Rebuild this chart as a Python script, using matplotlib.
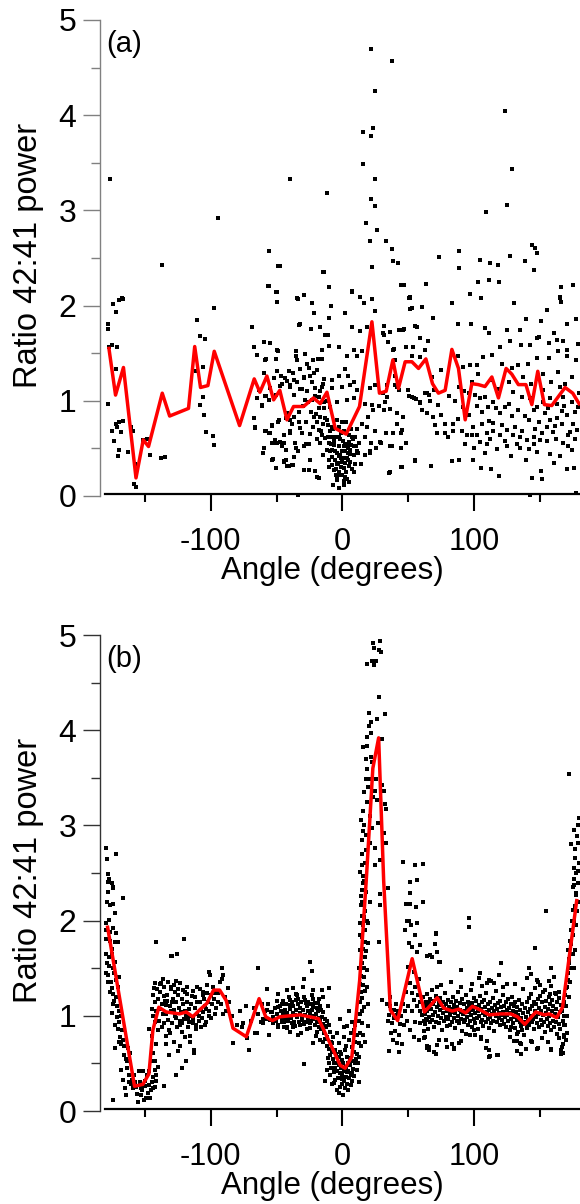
import matplotlib
matplotlib.use('Agg')
import matplotlib.pyplot as plt
import numpy as np
from matplotlib.ticker import MultipleLocator

plt.rcParams['font.family'] = ['Liberation Sans', 'DejaVu Sans']
plt.rcParams['axes.unicode_minus'] = False

# ---------------- Panel (a) data ----------------
a_line_x = [-177, -172, -166, -156.5, -151, -147, -136.6, -131, -116.7, -112,
            -107.6, -102, -97.2, -78, -66.9, -62.6, -57.3, -52.2, -47.5, -42.1,
            -37.1, -29.5, -22, -16.9, -11.8, -5.5, 2.8, 12.9, 22.3, 28,
            33.1, 38.2, 42.4, 47.5, 52.6, 57.6, 63.2, 68.2, 72.7, 77.8,
            82.9, 87.9, 93, 98, 103, 108, 113.2, 118.2, 124, 128.3,
            133.3, 139, 143.5, 148, 153, 158.6, 168.7, 174.5, 179.3]
a_line_y = [1.55, 1.06, 1.35, 0.19, 0.59, 0.52, 1.08, 0.84, 0.92, 1.57,
            1.14, 1.16, 1.52, 0.74, 1.23, 1.09, 1.26, 1.01, 1.11, 0.80,
            0.94, 0.94, 1.03, 0.97, 1.09, 0.71, 0.65, 0.94, 1.83, 1.08,
            1.10, 1.43, 1.13, 1.41, 1.41, 1.34, 1.44, 1.18, 1.08, 1.11,
            1.54, 1.34, 0.80, 1.18, 1.17, 1.15, 1.25, 1.03, 1.34, 1.28,
            1.17, 1.17, 0.96, 1.31, 0.96, 0.95, 1.14, 1.08, 0.97]

a_high = [(-176, 3.33), (-167, 2.08), (-137, 2.43), (-94.7, 2.92), (-39.6, 3.33), (-56, 2.57),
          (-48.5, 2.42), (-56, 2.21), (-50, 2.14), (-34.5, 2.08), (21.5, 4.70), (37.9, 4.57),
          (24.8, 4.25), (15.9, 3.82), (23, 3.87), (21.5, 3.78), (123.5, 4.04), (15.9, 3.49),
          (24.8, 3.33), (128.6, 3.43), (-11.6, 3.18), (21.5, 3.12), (24.8, 3.05), (124.8, 3.06),
          (108.6, 2.98), (18, 2.87), (26, 2.79), (21, 2.68), (32.9, 2.68), (37.9, 2.59),
          (143.5, 2.64), (145.7, 2.61), (147.5, 2.55), (88.6, 2.57), (73.5, 2.51), (126.8, 2.52),
          (104.3, 2.48), (111.9, 2.45), (118.2, 2.43), (138.6, 2.47), (38.6, 2.47), (41.7, 2.45),
          (22.7, 2.41), (88.6, 2.39), (145.5, 2.37), (-14.1, 2.35), (-47, 2.42), (-10.3, 2.20),
          (44.2, 2.22), (46.7, 2.22), (63.4, 2.23), (103, 2.25), (111.1, 2.27), (118.7, 2.25),
          (165.7, 2.20), (175, 2.22), (-29, 2.11), (-34, 2.07), (7.1, 2.14), (13.4, 2.09),
          (22.3, 2.07), (51.3, 2.08), (96.7, 2.12), (105.3, 2.08), (165, 2.08)]

a_left = [(-177.8, 1.81), (-177.8, 1.75), (-174, 2.02), (-172, 1.93), (-169.7, 2.06), (-166, 2.07),
          (-177, 1.56), (-174.7, 1.59), (-171, 1.57), (-172, 1.33), (-177.8, 0.97), (-174.7, 0.68),
          (-172, 0.76), (-169.7, 0.78), (-166.7, 0.79), (-171, 0.73), (-167.9, 0.67), (-172.9, 0.58),
          (-169, 0.48), (-170, 0.42), (-162.6, 0.46), (-160, 0.73), (-159, 0.68), (-158, 0.13),
          (-156.5, 0.09), (-157, 0.34), (-148, 0.60), (-151, 0.59), (-146, 0.43), (-137.3, 0.40),
          (-134.8, 0.41), (-110, 1.85), (-107.8, 1.68), (-104, 1.65), (-106, 1.36), (-110.8, 1.31),
          (-97.4, 1.98), (-106, 1.04), (-107.8, 0.96), (-105, 0.85), (-103.5, 0.67), (-98.5, 0.63),
          (-97.4, 0.54), (-68.4, 1.77), (-67.4, 1.57), (-67.4, 0.82), (-66.1, 0.71)]

a_mid = [(-64.8, 1.48), (-59.8, 1.62), (-55.3, 1.61), (-58.3, 1.44), (-49.5, 1.53), (-50.2, 1.44),
         (-49.7, 2.04), (-32.8, 1.80), (-64.8, 1.03), (-61, 0.95), (-58, 1.05), (-56, 1.01),
         (-52.2, 1.24), (-49.7, 1.31), (-45.9, 1.18), (-41.7, 1.21), (-39.6, 1.15), (-37.6, 1.29),
         (-35.6, 1.47), (-34.5, 1.43), (-58.6, 0.68), (-55.3, 0.66), (-53.5, 0.75), (-48.9, 0.78),
         (-59.3, 0.50), (-60.3, 0.45), (-52.7, 0.39), (-50.2, 0.29), (-45.9, 0.52), (-44.2, 0.37),
         (-42.9, 0.48), (-41.7, 0.31), (-38.3, 0.33), (-37.1, 0.41), (-35.3, 0.50), (-39.6, 0.68),
         (-42.1, 0.87), (-39.6, 0.80), (-37.1, 0.83), (-33.8, 0.01), (-50.2, 0.56), (-47, 0.57),
         (-14.4, 2.35), (-56.8, 2.21), (-50.2, 2.14), (-29.5, 2.11), (-33.8, 2.07), (-23.2, 2.03),
         (-10, 2.20), (-8.8, 2.0), (7.1, 2.15), (13.4, 2.09), (16, 2.03), (24.8, 1.94),
         (45.8, 2.22), (63.5, 2.23), (51.4, 2.09), (60.2, 1.99), (51.4, 1.96), (2.0, 1.92),
         (-21.9, 1.92), (-10.6, 1.87), (-32, 1.81), (-68.6, 1.77), (-17.4, 1.77), (-23.7, 1.75),
         (-13.1, 1.69), (-11.3, 1.69), (7.1, 1.78), (13.4, 1.73), (18.4, 1.78), (31.6, 1.79),
         (36.1, 1.72), (43.2, 1.74), (46.3, 1.75), (31.1, 1.69), (58.5, 1.66), (64.8, 1.63),
         (47.8, 1.57), (62.2, 1.53), (-59.8, 1.62), (-54.8, 1.61), (-67.4, 1.56), (-48.9, 1.52),
         (-64.9, 1.48), (-58.5, 1.43), (-35.1, 1.52), (-28.3, 1.49), (-15.7, 1.53), (-10.1, 1.58),
         (-3, 1.56), (3.4, 1.47), (8.4, 1.53), (11, 1.47), (14.7, 1.52), (39.3, 1.54),
         (-22, 1.43), (-18.4, 1.44), (-15.8, 1.44), (-26.8, 1.39), (-32, 1.33), (-40.2, 1.31),
         (-59.3, 1.29), (-46.4, 1.26), (-43.4, 1.24), (-37.1, 1.22), (-25.6, 1.34), (-21.9, 1.29),
         (-19.4, 1.32), (-13.8, 1.23), (-8.1, 1.22), (-3, 1.26), (2, 1.33), (4.5, 1.26),
         (8.4, 1.20), (-24.4, 1.26), (-29.5, 1.24), (-34.6, 1.20), (-39.7, 1.17), (-47.2, 1.16),
         (-54.8, 1.13), (-63.6, 1.11), (-58.5, 1.05), (-61, 0.96), (-50.7, 1.06), (-37.1, 1.06),
         (-30.7, 1.12), (-20.6, 1.13), (-15.6, 1.15), (-8.1, 1.13), (-0.5, 1.15), (5.8, 1.17),
         (10.9, 1.11), (21, 1.13), (24.8, 1.17), (33.7, 1.17), (40, 1.17), (42.5, 1.11),
         (50.1, 1.05), (53.9, 1.03), (62.7, 1.08), (58.9, 0.98), (65.2, 1.06), (-28.2, 1.01),
         (-23.2, 1.01), (-18.1, 1.04), (-13.8, 0.99), (-9.3, 0.94), (-3.8, 0.99), (3.3, 1.01),
         (8.4, 1.03), (17.2, 0.97), (22.3, 0.96), (27.4, 0.95), (32.4, 0.99), (36.1, 0.91),
         (41.2, 0.87), (46.2, 0.83), (31.1, 0.90), (-66.9, 0.82), (-66.1, 0.72), (-57.8, 0.68),
         (-56, 0.66), (-53.5, 0.74), (-48.4, 0.80), (-42.6, 0.82), (-38.4, 0.76), (-33.3, 0.78),
         (-32, 0.71), (-39.6, 0.66), (-44.6, 0.64), (-44.6, 0.56), (-49.6, 0.56), (-53.5, 0.56),
         (-59.8, 0.50), (-60.3, 0.45), (-53.5, 0.38), (-44.6, 0.36), (-40.9, 0.31), (-37.7, 0.33),
         (-33.8, 0.47), (-29.5, 0.52), (-25.7, 0.55), (-24.4, 0.38), (-25.7, 0.27), (-29.5, 0.27),
         (-20.6, 0.26), (-19.4, 0.20), (-18.1, 0.19), (-21.9, 0.83), (-19.4, 0.78), (-16.9, 0.83),
         (-14.4, 0.76), (-11.8, 0.80), (-8.1, 0.73), (-18.1, 0.69), (-15.6, 0.64), (-13.1, 0.61),
         (-16.9, 0.56), (-10.6, 0.56), (-5.6, 0.62), (-3, 0.73), (-0.5, 0.78), (-6.8, 0.54),
         (-9.3, 0.47), (-8.1, 0.41), (-5.6, 0.47), (-3, 0.52), (-1.8, 0.43), (0.8, 0.52),
         (2, 0.47), (4.6, 0.57), (7.1, 0.62), (5.8, 0.48), (8.4, 0.43), (3.3, 0.40),
         (-0.5, 0.36), (-4.3, 0.34), (-8.1, 0.33), (-6.8, 0.27), (-3, 0.25), (0.8, 0.29),
         (4.6, 0.31), (5.8, 0.36), (9.6, 0.34), (10.9, 0.47), (12.2, 0.56), (8.4, 0.52),
         (-1.8, 0.22), (2, 0.20), (-4.3, 0.17), (-7.4, 0.12), (0.8, 0.16), (-10.6, 0.38),
         (-14.4, 0.43), (14.7, 0.76), (18.4, 0.73), (19.7, 0.83), (23.5, 0.90), (16.8, 0.62),
         (21.9, 0.56), (25.7, 0.50), (29.5, 0.56), (33.3, 0.66), (35.8, 0.52), (38.4, 0.66),
         (44.7, 0.50), (48.5, 0.56), (44.7, 0.66), (16.8, 0.43), (14.2, 0.34), (20.9, 0.47),
         (35, 0.24), (45.1, 0.30), (55.1, 0.37), (-42.6, 0.38), (-50.9, 0.59), (-35.8, 0.56),
         (-2, 0.6), (1, 0.68), (3.5, 0.55), (-4, 0.45), (6, 0.44), (-1, 0.30), (2.5, 0.25),
         (4, 0.38), (-6, 0.38), (0, 0.47), (-3, 0.62), (8, 0.6), (9, 0.25), (-9, 0.55),
         (-11, 0.62), (11, 0.7), (6.5, 0.7), (-7, 0.7), (-12, 0.48), (12, 0.45), (1.5, 0.12),
         (-5, 0.22), (5, 0.15), (-2.5, 0.08), (7, 0.28), (-10, 0.3), (3, 0.78), (-4.5, 0.8),
         (10, 0.52), (-8.5, 0.62), (0.5, 0.58), (-1.5, 0.4), (2, 0.35), (4.5, 0.5), (-3.5, 0.35),
         (-30, 0.95), (-27, 1.1), (-24, 0.88), (-21, 1.05), (-18, 0.92), (-15, 1.18), (-12, 1.0),
         (-28, 0.78), (-25, 0.65), (-22, 0.72), (-19, 0.6), (-16, 0.68), (-13, 0.82), (-32, 1.12),
         (-29, 1.25), (-26, 0.99), (-23, 1.2), (-20, 0.86), (-17, 1.1), (-14, 0.92), (-11, 0.75),
         (-33, 0.88), (-31, 0.66), (-27.5, 0.55), (-6.5, 0.58), (-2.8, 0.42), (1.8, 0.55),
         (3.8, 0.45), (6.8, 0.54), (-5.2, 0.28), (-0.2, 0.22), (3.1, 0.18), (-7.8, 0.48),
         (9.2, 0.62), (-9.8, 0.68), (-1.2, 0.66), (5.2, 0.64), (-3.8, 0.18), (0.4, 0.40)]

a_right = [(50.5, 2.08), (52.5, 1.97), (68.4, 1.87), (55.1, 1.79), (82.8, 2.03), (87.8, 1.81),
           (97.2, 1.81), (130.3, 2.03), (138.9, 1.86), (150.6, 1.84), (154.8, 1.95), (164.9, 2.09),
           (165.7, 2.04), (176.8, 1.86), (170, 1.81), (160.6, 1.71), (149, 1.67), (134.6, 1.74),
           (124.5, 1.74), (108.1, 1.76), (111.4, 1.71), (119.4, 1.57), (127, 1.63), (135.1, 1.59),
           (142.2, 1.59), (147.2, 1.66), (156.8, 1.61), (162.4, 1.64), (167.4, 1.63), (170.4, 1.53),
           (178.4, 1.60), (176.8, 1.43), (170.4, 1.47), (163.7, 1.52), (156.8, 1.45), (147.2, 1.45),
           (140.9, 1.39), (133.3, 1.38), (128.3, 1.34), (120.7, 1.39), (113.2, 1.48), (106.8, 1.46),
           (101.8, 1.38), (96.7, 1.38), (91.7, 1.36), (87.9, 1.47), (74.7, 1.32), (68.2, 1.25),
           (53.8, 1.57), (52.5, 1.47), (40, 1.43), (38.6, 1.53), (34.8, 1.62), (31, 1.71),
           (46.2, 1.74), (56.4, 1.78), (58.4, 1.46), (40, 1.26), (31, 1.08), (33.6, 1.04),
           (41.1, 1.15), (49.5, 1.11), (52.5, 1.04), (55.8, 1.02), (58.8, 0.99), (63.9, 1.08),
           (69, 1.11), (72.7, 0.96), (68.9, 0.83), (63.9, 0.87), (71.5, 0.66), (77.8, 0.66),
           (84.1, 0.76), (90.4, 0.68), (94.2, 0.64), (98, 0.64), (101.8, 0.64), (96.2, 1.08),
           (100.5, 1.06), (104.3, 1.03), (108.1, 1.04), (110.6, 0.94), (114.4, 0.99), (119.5, 0.87),
           (123.2, 0.94), (128.3, 0.84), (133.3, 0.90), (138, 0.84), (144.8, 0.90), (148.6, 0.78),
           (153.6, 0.87), (157.4, 0.80), (162.4, 0.82), (166.2, 0.89), (170, 0.85), (175, 0.76),
           (177.5, 0.69), (172.5, 0.67), (166.2, 0.76), (159.9, 0.67), (154.9, 0.73), (149.8, 0.59),
           (144.8, 0.62), (139.7, 0.59), (134.7, 0.62), (129.6, 0.64), (124.6, 0.69), (119.5, 0.64),
           (114.4, 0.68), (109.4, 0.66), (105.6, 0.76), (114.4, 0.77), (104.3, 0.57), (109.4, 0.55),
           (117, 0.49), (124.6, 0.52), (134.2, 0.50), (141, 0.49), (147.3, 0.46), (157.4, 0.44),
           (164.5, 0.42), (170.6, 0.52), (173.9, 0.48), (167.4, 0.56), (104.8, 0.29), (112.9, 0.28),
           (118.4, 0.21), (143.7, 0.19), (151.3, 0.18), (150.7, 0.26), (170, 0.28), (175.8, 0.29),
           (83.1, 0.37), (88.4, 0.38), (99, 0.38), (55, 0.38), (66.9, 0.31), (44.2, 0.30),
           (36, 0.25), (141.9, 0.01), (177.1, 0.03), (77.8, 0.76), (84.1, 0.68), (87.9, 0.81),
           (91.7, 0.94), (129.6, 1.09), (136, 1.04), (142.2, 1.03), (147.2, 0.94), (152.3, 0.99),
           (157.4, 1.03), (162.4, 0.97), (167.4, 1.04), (173.8, 0.99), (178.8, 0.94), (164.9, 1.15),
           (152.3, 1.11), (41.1, 0.76), (44.9, 0.69), (37.4, 0.52), (28.6, 0.57), (24.8, 0.68),
           (21, 0.45), (96, 0.85), (99, 0.72), (102, 0.95), (106, 0.88), (111, 0.79), (116, 0.92),
           (121, 0.75), (126, 0.97), (131, 0.72), (136, 0.68), (141, 0.80), (146, 0.70), (151, 0.66),
           (156, 0.92), (161, 0.74), (168, 0.95), (171, 0.64), (176, 0.88), (98, 1.2), (103, 1.28),
           (113, 1.22), (118, 1.12), (126, 1.2), (137, 1.25), (143, 1.18), (152, 1.28), (158, 1.2),
           (163, 1.3), (169, 1.18), (174, 1.25), (179, 1.08), (112, 0.6), (123, 0.58), (132, 0.55),
           (145, 0.55), (155, 0.58), (162, 0.6), (176, 0.6), (100, 0.5), (108, 0.45), (128, 0.42),
           (139, 0.38), (160, 0.35), (93, 0.55), (80, 0.62), (75, 0.85), (70, 0.75), (66, 1.0),
           (60, 0.9), (85, 1.0), (88, 1.15), (92, 1.1), (81, 1.05)]

# ---------------- Panel (b) data ----------------
b_line_x = [-178, -157.6, -151.3, -146.7, -143.7, -139.2, -133.6, -123.5, -118.4, -113.4,
            -108.4, -102.8, -97.7, -93.1, -88.1, -83, -72.9, -63.2, -58.2, -53.1,
            -47.4, -39.8, -32, -18.2, -9.4, -1.7, 2, 7.1, 13, 18,
            23, 27.4, 31.2, 36.3, 41.8, 52.8, 62.1, 66.7, 71.8, 76.8,
            83.2, 88.2, 93.3, 98.4, 104.7, 111, 120, 127.5, 132.6, 138.2,
            146.5, 152.9, 156.7, 162.3, 166.8, 177.5]
b_line_y = [1.93, 0.26, 0.28, 0.39, 0.85, 1.09, 1.04, 1.02, 1.04, 0.99,
            1.06, 1.13, 1.27, 1.27, 1.16, 0.87, 0.78, 1.18, 0.99, 0.95,
            0.99, 1.00, 1.01, 0.97, 0.71, 0.48, 0.45, 0.57, 1.37, 2.42,
            3.6, 3.92, 2.42, 1.06, 0.95, 1.60, 1.04, 1.11, 1.19, 1.08,
            1.05, 1.07, 1.03, 1.10, 1.06, 1.01, 1.02, 1.02, 0.99, 0.91,
            1.04, 1.01, 1.02, 0.98, 1.09, 2.21]

b_left = [(-179.5, 2.76), (-172, 2.70), (-178.7, 2.65), (-178, 2.49), (-177, 2.44), (-173.6, 2.35),
          (-166.5, 2.24), (-177.9, 2.41), (-174.9, 2.40), (-174.1, 2.34), (-176.3, 2.16), (-174.1, 2.17),
          (-172.3, 2.08), (-179.5, 1.98), (-177.2, 2.01), (-174.1, 1.92), (-171.6, 1.87), (-178.9, 1.81),
          (-176.3, 1.79), (-172.5, 1.78), (-170, 1.78), (-179.5, 1.65), (-174.6, 1.65), (-178.4, 1.55),
          (-173.9, 1.50), (-172.4, 1.57), (-177.9, 1.43), (-169, 1.41), (-179.2, 1.45), (-174.6, 1.29),
          (-173.9, 1.23), (-173.1, 1.16), (-170.6, 1.10), (-174.6, 1.03), (-171.1, 0.99), (-169.1, 0.94),
          (-167.1, 0.85), (-168.6, 0.78), (-172.1, 0.66), (-169.6, 0.73), (-166.1, 0.75), (-162.8, 0.66),
          (-165.3, 0.59), (-161, 0.61), (-163.5, 0.52), (-167.8, 0.43), (-166.6, 0.33), (-158.9, 0.24),
          (-154.4, 0.42), (-151.3, 0.42), (-148.3, 0.38), (-146.3, 0.42), (-143.7, 0.36), (-142.4, 0.43),
          (-139.9, 0.46), (-141.1, 0.31), (-143.7, 0.24), (-147.5, 0.19), (-148.8, 0.14), (-145.7, 0.14),
          (-151.9, 0.22), (-156.5, 0.25), (-160.3, 0.28), (-155.3, 0.09), (-163.9, 0.17), (-165.1, 0.24),
          (-174.1, 0.12), (-134.9, 0.26), (-176, 1.88), (-175, 1.70), (-177, 1.62), (-173, 1.45),
          (-175.5, 1.35), (-172, 1.38), (-176.5, 1.25), (-171.5, 1.20), (-170, 1.30), (-169.5, 1.05),
          (-172.5, 0.90), (-168, 1.0), (-170.5, 0.86), (-167.5, 0.70), (-165.5, 0.68), (-164, 0.55),
          (-163, 0.45), (-161.5, 0.38), (-162, 0.30), (-159.5, 0.33), (-157.5, 0.30), (-156, 0.18),
          (-153.5, 0.30), (-152.5, 0.17), (-150, 0.26), (-149.5, 0.32), (-147, 0.27), (-145, 0.22),
          (-144, 0.30), (-150.5, 0.12), (-153, 0.24), (-158, 0.38), (-141.5, 0.38), (-142, 0.25),
          (-178.5, 2.2), (-179, 1.9), (-176.8, 1.52), (-178, 1.35), (-174, 1.12), (-177.5, 2.3)]

b_band1 = [(-145, 0.53), (-142.4, 0.53), (-143.7, 0.61), (-141.1, 0.70), (-144.2, 0.79), (-146.3, 0.86),
           (-142.4, 0.93), (-143.7, 1.00), (-144.2, 1.07), (-142.4, 1.14), (-143.7, 1.22), (-142.9, 1.29),
           (-142.4, 1.34), (-138.6, 1.33), (-136, 1.39), (-132.2, 1.35), (-129.7, 1.30), (-127.1, 1.25),
           (-125.9, 1.37), (-123.3, 1.34), (-120.8, 1.27), (-117.8, 1.23), (-114.4, 1.21), (-110.6, 1.30),
           (-108.1, 1.28), (-105.6, 1.25), (-103, 1.32), (-101, 1.46), (-100.5, 1.43), (-91.6, 1.50),
           (-90.8, 1.43), (-91.6, 1.39), (-86.5, 1.29), (-94.1, 1.24), (-97.4, 1.24), (-90.3, 1.02),
           (-141.1, 1.78), (-120.3, 1.81), (-125.4, 1.65), (-129.9, 1.63), (-138.6, 1.07), (-136.1, 1.02),
           (-133.6, 1.11), (-129.8, 1.05), (-127.3, 1.00), (-123.5, 0.95), (-122.3, 1.04), (-118.5, 1.00),
           (-116, 0.93), (-113.4, 0.97), (-110.9, 0.90), (-108.4, 1.00), (-105.9, 1.04), (-103.3, 1.07),
           (-100.8, 1.00), (-135.4, 1.21), (-132.8, 1.16), (-129, 1.14), (-131.6, 0.85), (-134.1, 0.79),
           (-127.8, 0.73), (-122.8, 0.68), (-115.2, 0.73), (-115.2, 0.79), (-119, 0.78), (-121.5, 0.83),
           (-112.6, 0.64), (-112.6, 0.61), (-131.6, 0.59), (-124.5, 0.63), (-118.9, 0.53), (-121.5, 0.45),
           (-126.5, 0.38), (-133.4, 0.70), (-129, 1.63), (-125.5, 1.65),
           (-141, 1.05), (-140, 1.18), (-139, 0.95), (-138, 1.25), (-137, 1.12), (-136.5, 0.88),
           (-135, 1.30), (-134, 1.02), (-133, 1.22), (-132, 0.96), (-131, 1.10), (-130, 1.28),
           (-129.5, 0.92), (-128.5, 1.18), (-128, 1.06), (-126.5, 1.14), (-126, 0.98), (-125, 1.22),
           (-124, 1.08), (-123, 0.90), (-122, 1.18), (-121, 1.12), (-120, 0.97), (-119.5, 1.05),
           (-118, 1.15), (-117, 0.88), (-116.5, 1.07), (-115.5, 1.00), (-114.5, 1.12), (-113, 0.92),
           (-112, 1.08), (-111.5, 1.20), (-110, 1.02), (-109, 0.95), (-108, 1.14), (-107, 1.06),
           (-106.5, 0.98), (-105, 1.18), (-104, 1.10), (-103.5, 0.94), (-102, 1.15), (-101.5, 1.05),
           (-100, 1.22), (-99, 1.12), (-98, 1.30), (-97, 1.18), (-96, 1.08), (-95, 1.26),
           (-94, 1.15), (-93, 1.35), (-140.5, 1.28), (-137.5, 1.34), (-134.5, 1.16), (-127.5, 1.32),
           (-124.5, 1.28), (-119, 1.25), (-117.5, 1.30), (-113.5, 1.26), (-110.5, 1.14), (-106, 1.22),
           (-102.5, 1.24), (-139.5, 0.85), (-135.5, 0.92), (-130.5, 0.82), (-125.5, 0.88), (-121.5, 0.92),
           (-117, 0.97), (-111, 0.86), (-107.5, 0.88), (-104.5, 0.90), (-99.5, 0.98), (-96.5, 1.02),
           (-92, 1.12), (-89, 1.20), (-88, 1.05)]

b_mid1 = [(-83, 0.71), (-72.7, 0.77), (-71.1, 0.64), (-64.8, 0.82), (-55.9, 0.80), (-75.2, 0.92),
          (-66.4, 0.82), (-63.8, 1.50), (-57.5, 1.28), (-60, 0.92), (-57.5, 1.06), (-55, 0.96),
          (-52.5, 0.99), (-49.9, 1.02), (-48.7, 0.90), (-49.9, 1.16), (-86, 1.15), (-84, 1.0),
          (-80, 0.9), (-78, 1.05), (-76, 0.88), (-73, 1.1), (-69, 0.95), (-67, 1.08), (-64, 1.02),
          (-62, 0.93), (-61, 1.12), (-59, 1.05), (-58, 0.97), (-56.5, 1.12), (-54, 1.04),
          (-53, 0.92), (-51.5, 1.08), (-50.5, 0.95), (-60, 0.97), (-48.6, 1.23), (-42.3, 1.27),
          (-37.2, 1.29), (-34.7, 1.22), (-44.8, 1.16), (-39.8, 1.11), (-48.6, 1.09), (-53.6, 1.04),
          (-46, 0.94), (-42.3, 0.88), (-37.2, 0.88), (-48.6, 0.88), (-39.8, 0.83), (-33.4, 0.80)]

b_band2 = [(-24.6, 1.57), (-22.8, 1.47), (-29.2, 1.39), (-35.2, 1.23), (-30.1, 1.30), (-22, 1.27),
           (-15.7, 1.27), (-9.9, 1.29), (-15.1, 1.20), (-44.8, 1.15), (-39.8, 1.17), (-33.4, 1.18),
           (-28.4, 1.17), (-22, 1.18), (-18.2, 1.13), (-47.4, 1.10), (-43.6, 1.06), (-37.2, 1.10),
           (-32.2, 1.08), (-27.1, 1.10), (-23.3, 1.06), (-19.5, 1.08), (-14.4, 1.04), (-46.1, 0.97),
           (-41.1, 0.99), (-36, 1.01), (-30.9, 0.99), (-25.9, 0.97), (-22, 0.97), (-16.9, 0.95),
           (-11.8, 0.95), (-41.8, 0.87), (-36, 0.89), (-31.6, 0.82), (-24.6, 0.87), (-19.5, 0.83),
           (-13.2, 0.89), (-9.4, 0.83), (-22, 0.71), (-16.9, 0.75), (-11.8, 0.78), (-8.1, 0.71),
           (-29.2, 0.49), (-45, 1.02), (-44, 0.93), (-43, 1.12), (-42, 1.03), (-41, 0.95),
           (-40, 1.07), (-39, 0.98), (-38, 1.14), (-37.5, 1.03), (-36.5, 0.94), (-35.5, 1.06),
           (-34.5, 0.99), (-34, 1.12), (-33, 0.93), (-32.5, 1.03), (-31.5, 1.14), (-31, 0.96),
           (-30, 1.06), (-29.5, 0.91), (-28.5, 1.01), (-28, 1.13), (-27.5, 0.94), (-26.5, 1.05),
           (-26, 1.15), (-25, 0.92), (-24.5, 1.02), (-24, 1.12), (-23.5, 0.95), (-22.5, 1.09),
           (-21.5, 1.00), (-21, 0.90), (-20.5, 1.13), (-20, 1.02), (-19, 0.93), (-18.5, 1.05),
           (-18, 0.88), (-17.5, 0.98), (-17, 1.10), (-16, 0.86), (-15.5, 0.99), (-15, 0.91),
           (-14, 0.82), (-13.5, 0.97), (-13, 0.76), (-12.5, 0.88), (-12, 0.68), (-46.5, 1.05),
           (-45.5, 1.12), (-44.5, 0.88), (-43.5, 0.98), (-40.5, 1.20), (-38.5, 0.92), (-35, 1.17),
           (-32, 0.9), (-29, 1.2), (-27, 0.86), (-23, 1.22), (-20, 0.79), (-17.8, 1.18),
           (-16.2, 1.06), (-14.8, 0.72), (-10.5, 0.65), (-10, 0.9), (-11, 1.1)]

b_dip = [(-1.8, 0.97), (5.3, 1.05), (7.1, 0.94), (3.3, 0.89), (8.4, 0.85), (-5.6, 0.64),
         (-9.4, 0.59), (-3, 0.57), (-0.4, 0.54), (-6.8, 0.50), (-11.8, 0.43), (-6.8, 0.41),
         (-1.8, 0.40), (3.3, 0.41), (7.1, 0.40), (10.9, 0.43), (9.7, 0.50), (10.9, 0.60),
         (7.1, 0.67), (12.2, 0.71), (3.3, 0.57), (2, 0.64), (-3, 0.71), (0.8, 0.78),
         (-13.2, 0.31), (-6.8, 0.29), (-4.3, 0.22), (0.3, 0.17), (-3, 0.19), (3.3, 0.28),
         (7.1, 0.31), (12.7, 0.30), (-0.4, 0.34), (-9, 0.72), (-8, 0.62), (-7.5, 0.55),
         (-7, 0.78), (-6, 0.45), (-5, 0.6), (-4.5, 0.5), (-4, 0.42), (-3.5, 0.35), (-2.5, 0.48),
         (-2, 0.62), (-1, 0.45), (-0.5, 0.28), (0, 0.38), (0.5, 0.5), (1, 0.42), (1.5, 0.32),
         (2.5, 0.46), (3, 0.36), (4, 0.5), (4.5, 0.42), (5, 0.35), (5.5, 0.56), (6, 0.48),
         (6.5, 0.38), (7.5, 0.52), (8, 0.44), (8.5, 0.62), (9, 0.37), (9.5, 0.72), (10, 0.55),
         (11, 0.8), (11.5, 0.5), (-10, 0.5), (-9.5, 0.38), (-8.5, 0.45), (-5.5, 0.33),
         (-2.2, 0.25), (1.8, 0.24), (4.2, 0.22), (6.2, 0.27), (-1.2, 0.6), (2.8, 0.68),
         (-8, 0.28), (-11, 0.56), (-4, 0.82), (1.2, 0.88), (4.8, 0.75), (6.8, 0.82), (9.2, 0.9)]

b_rise = [(13.5, 0.82), (14.8, 0.92), (13.5, 1.02), (16, 1.09), (14.8, 1.19), (17.3, 1.26),
          (13.5, 1.33), (16, 1.41), (18.6, 1.48), (14.8, 1.55), (17.3, 1.62), (13.5, 1.69),
          (19.2, 1.76), (14.8, 1.83), (17.3, 1.90), (13.5, 1.97), (16, 2.04), (14.1, 2.16),
          (19.7, 0.89), (17.3, 0.73), (12.2, 0.57), (12.5, 0.95), (13, 1.15), (13.8, 1.25),
          (14.2, 1.42), (15, 1.05), (15.5, 1.32), (16.5, 1.5), (15.2, 1.7), (16.8, 1.78),
          (15.8, 1.95), (17, 2.1), (18, 1.68), (18.2, 2.0), (16.2, 2.2), (18.8, 1.3), (19, 1.12),
          (15.5, 0.8), (14, 0.68), (17.8, 2.3), (13, 1.85), (12.8, 1.5), (14.5, 2.05), (19.5, 1.98),
          (20.5, 2.2)]

b_peak = [(23.1, 4.92), (28.2, 4.94), (24.1, 4.86), (27.4, 4.84), (29.4, 4.82), (18.5, 4.70),
          (22.3, 4.73), (25.4, 4.73), (24.1, 4.68), (27.9, 4.35), (20.3, 4.18), (26.4, 4.12),
          (32.2, 4.17), (21.6, 4.09), (19.8, 4.04), (21.6, 3.97), (18.5, 3.93), (29.9, 3.91),
          (15.9, 3.82), (18.9, 3.83), (21.6, 3.72), (22.3, 3.67), (18.5, 3.59), (17.8, 3.49),
          (19.8, 3.49), (25.6, 3.49), (29.9, 3.42), (31.2, 3.36), (24.9, 3.36), (18.8, 3.25),
          (25.9, 3.27), (32.5, 3.22), (33.3, 3.17), (14.2, 3.06), (26.6, 3.03), (15.9, 2.94),
          (17.8, 2.90), (22.1, 2.97), (31.7, 2.92), (33.3, 2.82), (20.5, 2.81), (24.3, 2.76),
          (17.8, 2.74), (28.7, 2.64), (14.7, 2.58), (24.3, 2.58), (13.4, 2.51), (15.3, 2.47),
          (15.6, 2.39), (14.6, 2.32), (14.1, 2.26), (34.5, 2.34), (28.7, 2.28), (45.9, 2.62),
          (54.8, 2.58), (61.1, 2.59), (51.5, 2.41), (56.6, 2.43), (51, 2.29), (14.5, 2.7),
          (15, 2.85), (16.5, 3.0), (15.8, 3.15), (17, 2.6), (16, 2.42), (14.9, 2.2), (16.6, 3.35),
          (17.5, 3.7), (19.5, 3.4), (20.8, 3.1), (22.8, 3.3)]

b_right1 = [(27.4, 1.78), (28.7, 2.16), (29.9, 1.17), (35, 1.01), (37.6, 0.92), (40.1, 0.84),
            (38.9, 1.06), (36.3, 1.10), (41.4, 1.01), (43.9, 0.91), (41.4, 0.71), (42.7, 0.62),
            (35, 0.63), (48.4, 2.17), (51.4, 2.17), (50.2, 2.00), (47.1, 1.90), (52.2, 1.95),
            (55.2, 1.85), (50.2, 1.76), (52.7, 1.72), (56.5, 1.67), (64.1, 1.63), (49.6, 1.51),
            (54.1, 1.46), (58, 1.39), (51.5, 1.34), (52.7, 1.24), (54, 1.17), (56.6, 1.10),
            (59.1, 1.15), (60.4, 1.01), (65.4, 1.15), (64.1, 0.96), (55.3, 0.94), (51.5, 0.85),
            (54, 0.78), (57.8, 0.75), (64.1, 0.66), (61.5, 0.84), (58.9, 0.92), (60.9, 2.20),
            (56.6, 1.97), (55.4, 2.14), (48.9, 2.00), (59, 1.74), (34.5, 0.95), (36, 1.2),
            (37, 0.82), (39, 0.98), (40.5, 1.12), (42, 1.05), (43, 0.8), (44.5, 1.0), (45.5, 1.12),
            (46.5, 0.9), (47.5, 1.05), (48.5, 1.25), (49, 0.95), (50, 1.1), (53, 1.05), (55, 1.3),
            (57, 1.22), (58.5, 1.05), (61, 1.2), (62, 0.95), (63, 1.1), (33.5, 1.12), (38, 0.75),
            (45, 0.7)]

b_band3 = [(62.2, 1.02), (62.6, 0.91), (63.1, 1.14), (63.5, 0.97), (63.9, 1.23), (64.4, 1.05),
           (64.8, 0.86), (65.3, 1.10), (65.7, 0.99), (66.2, 1.18), (66.6, 0.93), (67.0, 1.07),
           (67.5, 1.27), (67.9, 0.96), (68.4, 1.12), (68.8, 1.01), (69.2, 0.88), (69.7, 1.16),
           (70.1, 1.04), (70.6, 1.21), (71.0, 0.94), (71.5, 1.09), (71.9, 1.30), (72.3, 1.00),
           (72.8, 1.13), (73.2, 0.92), (73.7, 1.06), (74.1, 1.19), (74.5, 0.98), (75.0, 1.11),
           (75.4, 0.85), (75.9, 1.03), (76.3, 1.15), (76.8, 0.95), (77.2, 1.08), (77.6, 1.24),
           (78.1, 0.99), (78.5, 1.12), (79.0, 0.89), (79.4, 1.05), (79.8, 1.17), (80.3, 0.97),
           (80.7, 1.09), (81.2, 1.01), (81.6, 0.90), (82.1, 1.14), (82.5, 1.04), (82.9, 0.94),
           (83.4, 1.20), (83.8, 1.07), (84.3, 0.98), (84.7, 1.11), (85.2, 0.87), (85.6, 1.03),
           (86.0, 1.16), (86.5, 0.95), (86.9, 1.09), (87.4, 1.00), (87.8, 1.25), (88.2, 0.92),
           (88.7, 1.06), (89.1, 1.13), (89.6, 0.97), (90.0, 1.04), (90.5, 0.84), (90.9, 1.18),
           (91.3, 1.02), (91.8, 0.93), (92.2, 1.12), (92.7, 1.05), (93.1, 0.96), (93.5, 1.22),
           (94.0, 1.08), (94.4, 0.99), (94.9, 1.15), (95.3, 0.90), (95.8, 1.04), (96.2, 1.10),
           (96.6, 0.95), (97.1, 1.27), (97.5, 1.01), (98.0, 0.88), (98.4, 1.13), (98.8, 1.06),
           (99.3, 0.97), (99.7, 1.19), (100.2, 1.03), (100.6, 0.92), (101.1, 1.09), (101.5, 1.16),
           (101.9, 0.98), (102.4, 1.05), (102.8, 0.86), (103.3, 1.11), (103.7, 1.00), (104.1, 1.21),
           (104.6, 0.94), (105.0, 1.07), (105.5, 1.14), (105.9, 0.96), (106.4, 1.03), (106.8, 0.89),
           (107.2, 1.17), (107.7, 1.01), (108.1, 1.09), (108.6, 0.93), (109.0, 1.24), (109.4, 1.04),
           (109.9, 0.97), (110.3, 1.12), (110.8, 0.87), (111.2, 1.06), (111.7, 0.99), (112.1, 1.15),
           (112.5, 0.92), (113.0, 1.08), (113.4, 1.02), (113.9, 1.19), (114.3, 0.95), (114.7, 1.05),
           (115.2, 0.84), (115.6, 1.11), (116.1, 1.00), (116.5, 1.26), (117.0, 0.94), (117.4, 1.07),
           (117.8, 1.13), (118.3, 0.98), (118.7, 1.03), (119.2, 0.90), (119.6, 1.16), (120.0, 1.01),
           (120.5, 1.09), (120.9, 0.96), (121.4, 1.22), (121.8, 1.04), (122.3, 0.91), (122.7, 1.10),
           (123.1, 0.99), (123.6, 1.14), (124.0, 0.88), (124.5, 1.06), (124.9, 1.01), (125.3, 1.18),
           (125.8, 0.95), (126.2, 1.08), (126.7, 0.85), (127.1, 1.03), (127.6, 1.12), (128.0, 0.97),
           (128.4, 1.20), (128.9, 1.05), (129.3, 0.92), (129.8, 1.10), (130.2, 0.99), (130.6, 1.15),
           (131.1, 0.87), (131.5, 1.04), (132.0, 0.96), (132.4, 1.09), (132.9, 0.83), (133.3, 1.01),
           (133.7, 1.17), (134.2, 0.93), (134.6, 1.06), (135.1, 0.89), (135.5, 0.98), (136.0, 1.12),
           (136.4, 0.85), (136.8, 1.03), (137.3, 0.94), (137.7, 0.80), (138.2, 1.08), (138.6, 0.91),
           (139.0, 0.99), (139.5, 1.14), (139.9, 0.87), (140.4, 1.04), (140.8, 0.95), (141.3, 1.19),
           (141.7, 0.90), (142.1, 1.07), (142.6, 1.00), (143.0, 1.23), (143.5, 0.93), (143.9, 1.10),
           (144.3, 0.97), (144.8, 1.15), (145.2, 0.86), (145.7, 1.05), (146.1, 1.29), (146.6, 0.99),
           (147.0, 1.12), (147.4, 0.92), (147.9, 1.18), (148.3, 1.02), (148.8, 0.88), (149.2, 1.08),
           (149.7, 1.21), (150.1, 0.96), (150.5, 1.05), (151.0, 1.14), (151.4, 0.90), (151.9, 1.01),
           (152.3, 1.25), (152.8, 0.94), (153.2, 1.09), (153.6, 0.83), (154.1, 1.03), (154.5, 1.16),
           (155.0, 0.97), (155.4, 1.07), (155.9, 0.89), (156.3, 1.20), (156.7, 1.00), (157.2, 0.92),
           (157.6, 1.12), (158.1, 0.85), (158.5, 1.05), (159.0, 1.17), (159.4, 0.95), (159.8, 1.10),
           (160.3, 0.88), (160.7, 1.02), (161.2, 1.24), (161.6, 0.93), (162.0, 1.07), (162.5, 0.81),
           (162.9, 1.14), (163.4, 0.99), (163.8, 0.91), (164.3, 1.19), (164.7, 1.04), (165.1, 0.86),
           (165.6, 1.11)]

b_out = [(95.8, 2.03), (95.8, 1.93), (154.2, 2.10), (146, 1.71), (119.9, 1.55), (89.5, 1.48),
         (70.5, 1.87), (69.9, 1.75), (71.7, 1.67), (74.2, 1.57), (103.4, 1.40), (111, 1.38),
         (118.6, 1.43), (140, 1.40), (147.7, 1.38), (141.3, 1.50), (153.1, 1.27), (156.9, 1.23),
         (162, 1.23), (61.6, 0.77), (65.4, 0.67), (71.7, 0.69), (79.3, 0.67), (84.4, 0.65),
         (89.5, 0.74), (93.3, 0.81), (99.6, 0.85), (104.7, 0.78), (111, 0.64), (117.4, 0.59),
         (111.5, 0.58), (127.3, 0.78), (129.8, 0.74), (134.9, 0.71), (138.7, 0.65), (143.7, 0.72),
         (147.5, 0.65), (151.3, 0.77), (157.7, 0.64), (165.3, 0.60), (166.5, 0.67), (164, 0.77),
         (170.4, 0.82), (167.9, 0.90), (135.6, 0.60), (132.5, 0.81), (127.4, 0.88), (70.5, 0.60),
         (70.5, 1.86), (72.9, 1.57), (67.9, 1.62), (66.2, 1.64), (145.8, 1.71), (157.8, 1.50),
         (104.3, 1.45), (112.3, 1.37), (109.8, 1.34), (124.5, 1.33), (142.8, 1.44), (147.8, 1.36),
         (156.6, 1.37), (160.4, 1.41), (164.2, 1.25), (64.1, 0.68), (65.4, 0.64), (69.2, 0.62),
         (62.9, 0.78), (72.9, 0.75), (78.8, 0.75), (83.1, 0.70), (84.4, 0.66), (88.2, 0.71),
         (97, 0.80), (100.8, 0.80), (104.6, 0.76), (108.4, 0.66), (111, 0.57), (117.8, 0.59),
         (109.8, 0.74), (132.6, 0.74), (135.1, 0.70), (132.6, 0.63), (139, 0.65), (142.8, 0.74),
         (147.8, 0.66), (155.4, 0.73), (158, 0.65), (165.6, 0.64), (166.9, 0.61), (168.1, 0.78),
         (75, 1.32), (82, 1.35), (90, 1.3), (98, 1.33), (106, 1.31), (115, 1.34), (122, 1.3),
         (131, 1.33), (137, 1.28), (150, 1.32), (158, 1.31)]

b_edge = [(171.9, 3.54), (179, 3.08), (175.7, 2.95), (177.5, 2.89), (173.2, 2.80), (178.3, 2.81),
          (176.5, 2.66), (175.7, 2.55), (178.3, 2.52), (175.2, 2.44), (174.4, 2.35), (177, 2.29),
          (170.8, 1.69), (172.1, 1.79), (173.3, 1.90), (175.8, 2.00), (174.6, 2.11), (177.1, 2.27),
          (175.8, 2.37), (170.8, 1.38), (169.6, 1.29), (170.6, 1.69), (176.2, 1.69), (171.8, 1.55),
          (175.6, 1.50), (166.5, 1.05), (167, 0.95), (167.5, 1.15), (168, 1.0), (168.5, 1.22),
          (169, 0.9), (169.5, 1.1), (170, 1.3), (170.5, 1.0), (171, 1.45), (171.5, 1.2), (172, 1.6),
          (172.5, 1.35), (173, 1.75), (173.5, 1.5), (174, 2.0), (174.5, 1.65), (175, 1.85),
          (176, 2.15), (176.8, 1.95), (177.3, 2.5), (177.8, 2.1), (178.5, 2.4), (179, 2.6),
          (176, 2.75), (178.8, 3.0), (179.3, 2.2), (168, 0.8), (167.2, 0.7), (169.2, 0.75)]

x_major = [-100, 0, 100]
y_major = [0, 1, 2, 3, 4, 5]

# ---------------- Figure ----------------
fig = plt.figure(figsize=(5.8, 12.04), dpi=100)
ax1 = fig.add_axes([0.1810, 0.58804, 0.8190, 0.39535])
ax2 = fig.add_axes([0.1810, 0.07724, 0.8190, 0.39535])


def style(ax, tag, spine_color):
    ax.set_xlim(-180, 180)
    ax.set_ylim(0, 5)
    for s in ('top', 'right'):
        ax.spines[s].set_visible(False)
    ax.spines['left'].set_position(('outward', 3.6))
    ax.spines['left'].set_color(spine_color)
    ax.spines['left'].set_linewidth(1.0)
    ax.spines['bottom'].set_position(('data', 0.025))
    ax.spines['bottom'].set_linewidth(1.6)
    ax.set_xticks(x_major)
    ax.set_yticks(y_major)
    ax.xaxis.set_minor_locator(MultipleLocator(50))
    ax.yaxis.set_minor_locator(MultipleLocator(0.5))
    ax.tick_params(axis='x', which='major', direction='out', length=12, width=1.5,
                   pad=12, labelsize=22)
    ax.tick_params(axis='x', which='minor', direction='out', length=6, width=1.5)
    ax.tick_params(axis='y', which='major', direction='out', length=12, width=1.0,
                   pad=5, labelsize=23, color=spine_color)
    ax.tick_params(axis='y', which='minor', direction='out', length=6.5, width=1.0,
                   color=spine_color)
    ax.set_ylabel('Ratio 42:41 power', fontsize=23.5)
    ax.yaxis.set_label_coords(-0.128, 0.506)
    ax.set_xlabel('Angle (degrees)', fontsize=22.5)
    ax.xaxis.set_label_coords(0.479, -0.126)
    ax.text(-179, 4.66, tag, fontsize=21, ha='left', va='baseline')


def scatter(ax, groups):
    for g in groups:
        arr = np.array(g)
        ax.plot(arr[:, 0], arr[:, 1], 's', ms=3.5, mew=0, color='black',
                clip_on=False, zorder=2)


scatter(ax1, [a_high, a_left, a_mid, a_right])
ax1.plot(a_line_x, a_line_y, color='#ff0000', lw=2.5, zorder=3, clip_on=False)
style(ax1, '(a)', '#808080')

scatter(ax2, [b_left, b_band1, b_mid1, b_band2, b_dip, b_rise, b_peak, b_right1,
              b_band3, b_out, b_edge])
ax2.plot(b_line_x, b_line_y, color='#ff0000', lw=2.5, zorder=3, clip_on=False)
style(ax2, '(b)', '#333333')

fig.savefig('out.png', dpi=100)
